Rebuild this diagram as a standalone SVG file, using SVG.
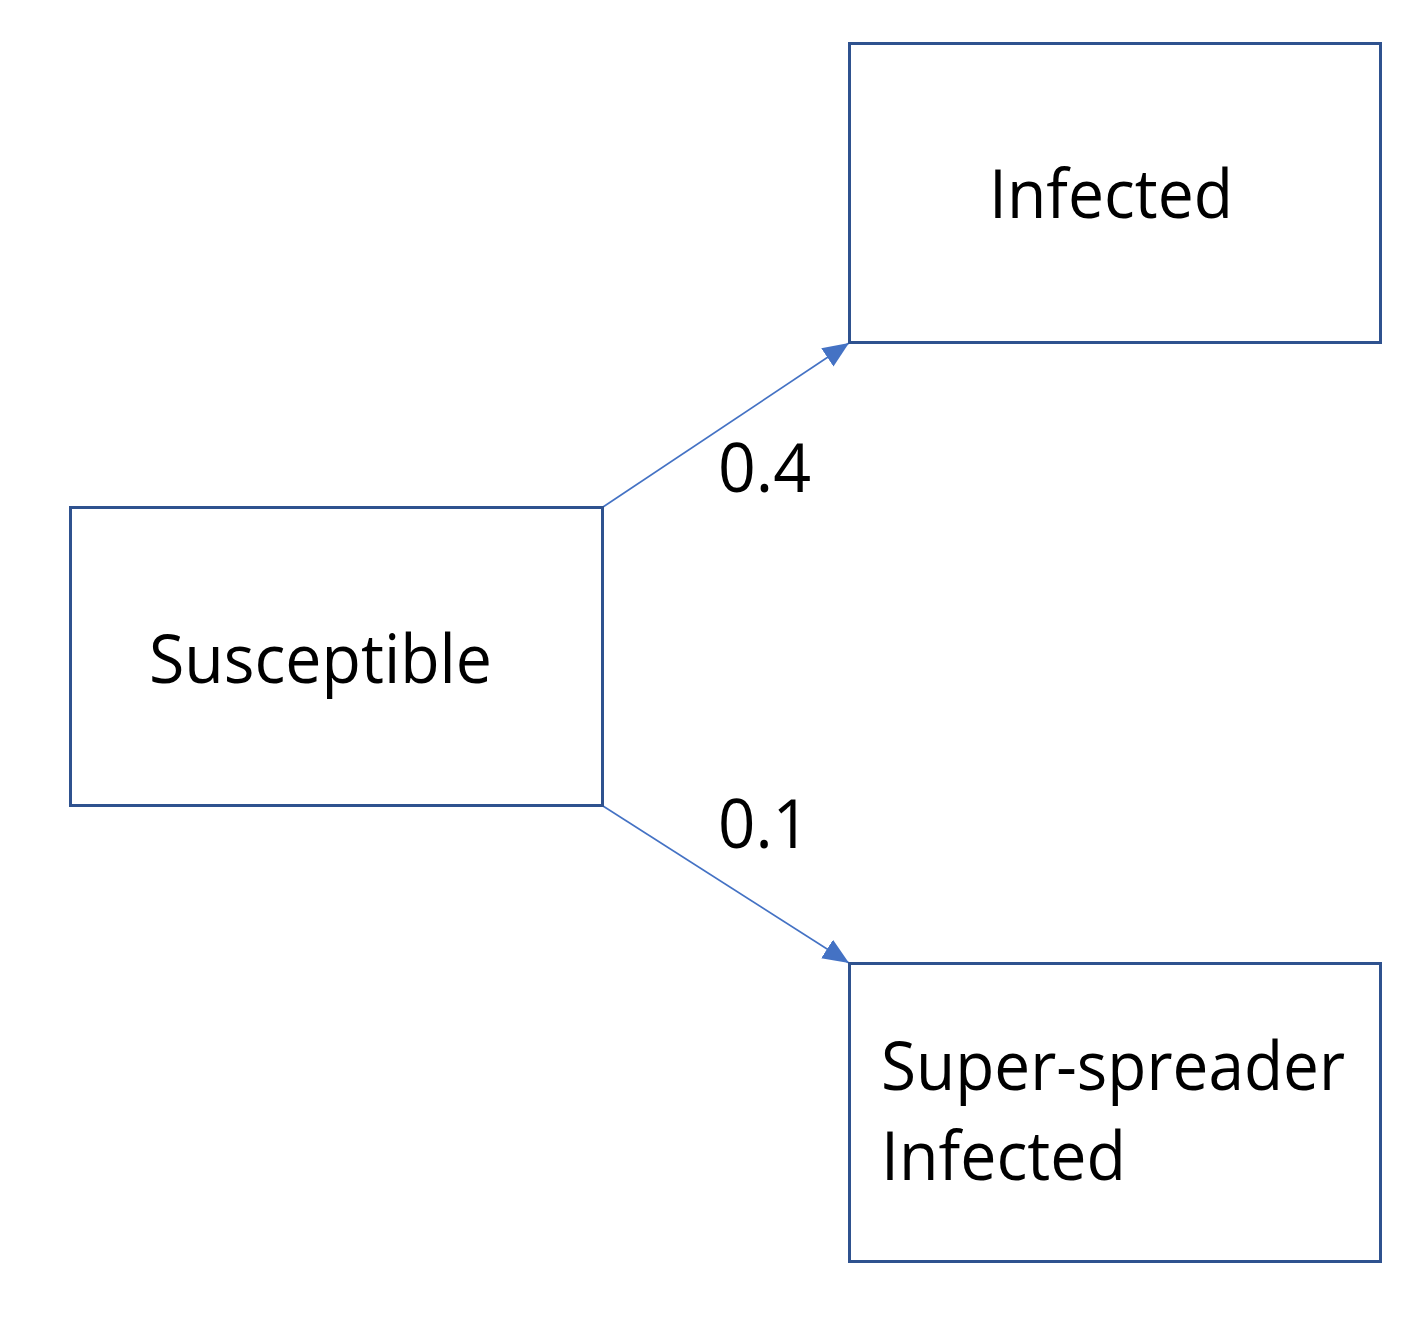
<svg xmlns="http://www.w3.org/2000/svg" width="1409" height="1330" viewBox="0 0 1409 1330">
<style>
.box{fill:#ffffff;stroke:#2f528f;stroke-width:3}
.lbl{font-family:"Open Sans","Noto Sans",sans-serif;font-size:68px;fill:#000000}
.edge{stroke:#4472c4;stroke-width:1.6;fill:none}
</style>
<defs>
<marker id="arrow" markerUnits="userSpaceOnUse" markerWidth="28" markerHeight="24" refX="26" refY="11" orient="auto">
<path d="M0,0 L26,11 L0,22 Z" fill="#4472c4"/>
</marker>
</defs>
<rect width="1409" height="1330" fill="#ffffff"/>
<g id="connectors">
<line class="edge" x1="603" y1="507" x2="849" y2="343" marker-end="url(#arrow)"/>
<line class="edge" x1="603" y1="806" x2="849" y2="963" marker-end="url(#arrow)"/>
<text class="lbl" x="718" y="492" textLength="93" lengthAdjust="spacingAndGlyphs">0.4</text>
<text class="lbl" x="718" y="848" textLength="92" lengthAdjust="spacingAndGlyphs">0.1</text>
</g>
<g id="infected">
<rect class="box" x="849.5" y="43.5" width="531" height="299"/>
<text class="lbl" x="989" y="218" textLength="244" lengthAdjust="spacingAndGlyphs">Infected</text>
</g>
<g id="susceptible">
<rect class="box" x="70.5" y="507.5" width="532" height="298"/>
<text class="lbl" x="149" y="683" textLength="343" lengthAdjust="spacingAndGlyphs">Susceptible</text>
</g>
<g id="superspreader">
<rect class="box" x="849.5" y="963.5" width="531" height="298"/>
<text class="lbl" x="881" y="1090" textLength="464" lengthAdjust="spacingAndGlyphs">Super-spreader</text>
<text class="lbl" x="881" y="1180" textLength="245" lengthAdjust="spacingAndGlyphs">Infected</text>
</g>
</svg>
